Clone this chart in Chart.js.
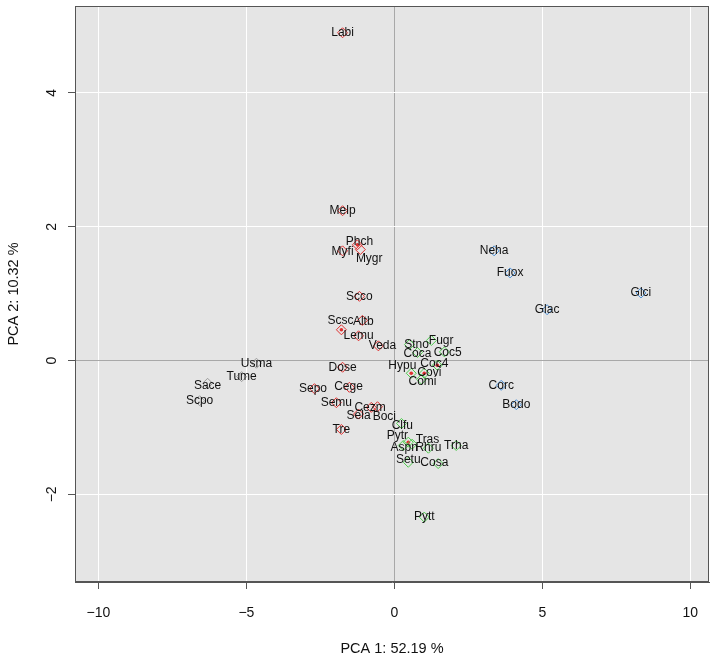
<!DOCTYPE html>
<html><head><meta charset="utf-8">
<script src="https://cdn.jsdelivr.net/npm/chart.js@4"></script>
<style>html,body{margin:0;padding:0;background:#fff}#wrap{width:715px;height:658px}</style>
</head><body><div id="wrap"><canvas id="c" width="715" height="658"></canvas></div>
<script>
// ---- data ----
const species = ['Labi','Melp','Phch','Myfi','Mygr','Scco','Scsc','Altb','Lemu','Veda','Dose','Sepo','Cege','Semu','Cezm','Boci','Sela','Tre',
  'Usma','Tume','Sace','Scpo',
  'Stno','Fugr','Coca','Coc5','Coc4','Covi','Hypu','Comi','Clfu','Pytr','Tras','Aspn','Rhru','Trha','Setu','Cosa','Pytt',
  'Neha','Fuox','Glci','Glac','Corc','Bodo'];
const pc1 = [-1.75,-1.75,-1.25,-1.75,-1.15,-1.18,-1.79,-1.08,-1.21,-0.54,-1.75,-2.70,-1.52,-1.96,-0.78,-0.57,-1.21,-1.79,
  -4.66,-5.16,-6.31,-6.58,
  0.51,1.25,0.78,1.69,1.45,1.01,0.57,0.92,0.24,0.47,0.60,0.30,1.15,2.09,0.47,1.48,1.01,
  3.37,3.91,8.33,5.16,3.61,4.12];
const pc2 = [4.90,2.24,1.73,1.64,1.66,0.96,0.46,0.60,0.37,0.22,-0.10,-0.42,-0.40,-0.63,-0.70,-0.69,-0.80,-1.03,
  -0.04,-0.24,-0.34,-0.60,
  0.24,0.30,0.12,0.13,-0.07,-0.19,-0.19,-0.28,-0.94,-1.22,-1.25,-1.27,-1.31,-1.27,-1.52,-1.54,-2.34,
  1.64,1.31,1.01,0.76,-0.37,-0.66];
const group = ['r','r','r','r','r','r','r','r','r','r','r','r','r','r','r','r','r','r',
  'k','k','k','k',
  'g','g','g','g','g','g','g','g','g','g','g','g','g','g','g','g','g',
  'b','b','b','b','b','b'];
// label anchor coordinates (data units)
const labX = [-1.75,-1.75,-1.18,-1.75,-0.85,-1.18,-1.82,-1.05,-1.21,-0.40,-1.75,-2.75,-1.55,-1.96,-0.82,-0.34,-1.21,-1.79,
  -4.66,-5.16,-6.31,-6.58,
  0.75,1.58,0.78,1.80,1.35,1.18,0.27,0.95,0.27,0.10,1.12,0.33,1.15,2.09,0.47,1.35,1.01,
  3.37,3.91,8.33,5.16,3.61,4.12];
const labY = [4.90,2.24,1.78,1.63,1.52,0.96,0.60,0.58,0.37,0.22,-0.10,-0.42,-0.39,-0.63,-0.70,-0.84,-0.82,-1.03,
  -0.04,-0.24,-0.37,-0.60,
  0.24,0.30,0.11,0.12,-0.04,-0.18,-0.07,-0.31,-0.97,-1.13,-1.18,-1.30,-1.30,-1.27,-1.48,-1.52,-2.34,
  1.64,1.31,1.01,0.76,-0.37,-0.66];
const marked = ['Phch','Scsc','Coc4','Covi','Hypu','Pytr'];
const xTicks = [-10,-5,0,5,10];
const yTicks = [-2,0,2,4];
const xTitle = 'PCA 1: 52.19 %';
const yTitle = 'PCA 2: 10.32 %';

// ---- styles ----
const colors = {r:'#E0302F', k:'#9A9A9A', g:'#4FCC4F', b:'#4A90D9'};
const FONT = '"Liberation Sans", Arial, Helvetica, sans-serif';
const fmt = v => v < 0 ? '\u2212' + Math.abs(v) : String(v);

const datasets = ['r','k','g','b'].map(gk => ({
  label: gk,
  data: species.map((s,i)=>({x:pc1[i], y:pc2[i], g:group[i]})).filter(p=>p.g===gk),
  pointStyle: 'rectRot', pointRadius: 5, pointBorderWidth: 1,
  borderColor: colors[gk], backgroundColor: 'rgba(0,0,0,0)', showLine:false
}));
datasets.push({
  label:'marked',
  data: marked.map(n => { const i = species.indexOf(n); return {x:pc1[i], y:pc2[i]}; }),
  pointStyle:'circle', pointRadius:1.8, pointBorderWidth:0, backgroundColor:'#E0302F', borderColor:'#E0302F'
});

const deco = {
  id:'deco',
  beforeDraw(chart){
    const {ctx, chartArea:a} = chart;
    ctx.save(); ctx.fillStyle = '#E5E5E5';
    ctx.fillRect(a.left, a.top, a.right-a.left, a.bottom-a.top); ctx.restore();
  },
  afterDraw(chart){
    const {ctx, chartArea:a, scales} = chart;
    ctx.save();
    // point labels
    ctx.font = '12px ' + FONT; ctx.fillStyle = '#111'; ctx.textAlign='center'; ctx.textBaseline='middle';
    species.forEach((s,i)=>{
      ctx.fillText(s, scales.x.getPixelForValue(labX[i]), scales.y.getPixelForValue(labY[i]));
    });
    // box
    ctx.strokeStyle = '#555'; ctx.lineWidth = 1;
    ctx.strokeRect(Math.round(a.left)+0.5, Math.round(a.top)+0.5, Math.round(a.right-a.left)-1, Math.round(a.bottom-a.top)-1);
    // y tick labels rotated
    ctx.font = '14px ' + FONT; ctx.fillStyle = '#111';
    yTicks.forEach(v=>{
      ctx.save(); ctx.translate(52, scales.y.getPixelForValue(v)); ctx.rotate(-Math.PI/2);
      ctx.textAlign='center'; ctx.textBaseline='middle'; ctx.fillText(fmt(v),0,0); ctx.restore();
    });
    // titles
    ctx.font = '14.5px ' + FONT;
    ctx.textAlign='center'; ctx.textBaseline='middle';
    ctx.fillText(xTitle, (a.left+a.right)/2, 649);
    ctx.save(); ctx.translate(14, (a.top+a.bottom)/2); ctx.rotate(-Math.PI/2); ctx.fillText(yTitle,0,0); ctx.restore();
    ctx.restore();
  }
};

const gridColor = ctx => (ctx.tick && ctx.tick.value === 0) ? '#A8A8A8' : '#FFFFFF';

new Chart(document.getElementById('c'), {
  type:'scatter',
  data:{datasets},
  options:{
    responsive:false, animation:false, devicePixelRatio:1,
    layout:{padding:{left:0, top:5, right:5, bottom:0}},
    plugins:{legend:{display:false}, tooltip:{enabled:false}},
    scales:{
      x:{type:'linear', min:-10.79, max:10.63,
        afterBuildTicks: s => { s.ticks = xTicks.map(v=>({value:v})); },
        afterFit: s => { s.height = 76; s.paddingLeft = 0; s.paddingRight = 0; },
        grid:{color:gridColor, lineWidth:1, drawTicks:true, tickLength:7, tickColor:'#555'},
        border:{color:'#555', width:1},
        ticks:{font:{size:14, family:FONT}, color:'#111', padding:16, maxRotation:0, callback:v=>fmt(v)}
      },
      y:{type:'linear', min:-3.31, max:5.30,
        afterBuildTicks: s => { s.ticks = yTicks.map(v=>({value:v})); },
        afterFit: s => { s.width = 75; s.paddingTop = 0; s.paddingBottom = 0; },
        grid:{color:gridColor, lineWidth:1, drawTicks:true, tickLength:7, tickColor:'#555'},
        border:{color:'#555', width:1},
        ticks:{font:{size:2, family:FONT}, color:'rgba(0,0,0,0)', callback:v=>fmt(v)}
      }
    }
  },
  plugins:[deco]
});
</script></body></html>
